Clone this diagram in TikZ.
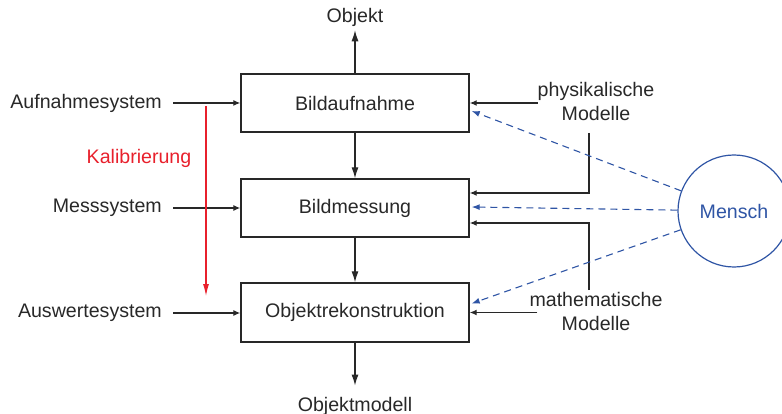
\documentclass[tikz,border=0pt]{standalone}
\usepackage{fontspec}
\setmainfont{Liberation Sans}
\usepackage{xcolor}
\usetikzlibrary{arrows.meta,calc}
\definecolor{strich}{RGB}{40,40,40}
\definecolor{menschblau}{RGB}{47,85,165}
\definecolor{kalibrot}{RGB}{232,32,44}
\tikzset{>=Latex}
\tikzset{
	block/.style={draw=strich,line width=1.4pt,minimum width=228pt,minimum height=58pt,inner sep=0pt},
	eingang/.style={anchor=east,inner xsep=11pt},
	modell/.style={align=center,inner sep=0pt},
	mensch/.style={circle,draw=menschblau,text=menschblau,line width=1.2pt,minimum size=112pt,inner sep=0pt},
	pfeil/.style={->,draw=strich,line width=1.2pt,>={Latex[length=7pt,width=6pt]}},
	hauptpfeil/.style={pfeil,>={Latex[length=11pt,width=7pt]}},
	mitwirkung/.style={->,draw=menschblau,line width=1.1pt,dash pattern=on 7pt off 5pt,>={Latex[length=8pt,width=6pt]}},
	kalibpfeil/.style={->,draw=kalibrot,line width=1.1pt,>={Latex[length=12pt,width=6pt]}}
}

\begin{document}
\begin{tikzpicture}[x=1pt,y=-1pt,font=\fontsize{19.6}{24}\selectfont,text=strich]
	\useasboundingbox (0,0) rectangle (782,414);

	% Ablauf
	\node[block] (aufnahme) at (355,103) {Bildaufnahme};
	\node[block] (mess) at (355,208) {Bildmessung};
	\node[block,minimum height=59pt] (rekon) at (355,312.5) {Objektrekonstruktion};
	\node[anchor=base,inner sep=3pt] (objekt) at (355,23) {Objekt};
	\node[anchor=base,inner sep=3pt] (objektmodell) at (355,411) {Objektmodell};

	\draw[hauptpfeil] (aufnahme.north) -- (objekt.south);
	\draw[hauptpfeil] (aufnahme.south) -- (mess.north);
	\draw[hauptpfeil] (mess.south) -- (rekon.north);
	\draw[hauptpfeil] (rekon.south) -- ([yshift=8pt]objektmodell.north);

	% Systeme links
	\node[eingang] (aufnahmesystem) at (173,103) {Aufnahmesystem};
	\node[eingang] (messsystem) at (173,208) {Messsystem};
	\node[eingang] (auswertesystem) at (173,313) {Auswertesystem};
	\draw[pfeil] (aufnahmesystem.east) -- (aufnahmesystem.east -| aufnahme.west);
	\draw[pfeil] (messsystem.east) -- (messsystem.east -| mess.west);
	\draw[pfeil] (auswertesystem.east) -- (auswertesystem.east -| rekon.west);

	\node[text=kalibrot,anchor=base] (kalibrierung) at (139,164) {Kalibrierung};
	\coordinate (kalib start) at (206,106);
	\coordinate (kalib ende) at (206,296);
	\draw[kalibpfeil] (kalib start) -- (kalib ende);

	% Modelle rechts
	\node[modell] (physmodell) at (596,101.5) {physikalische\\Modelle};
	\node[modell] (mathmodell) at (596,311.5) {mathematische\\Modelle};
	\draw[pfeil] (physmodell.west |- aufnahme.east) -- (aufnahme.east);
	\draw[pfeil] ([xshift=-7pt,yshift=-12pt]physmodell.south) |- ([yshift=15pt]mess.east);
	\draw[pfeil] ([xshift=-7pt,yshift=2pt]mathmodell.north) |- ([yshift=-15pt]mess.east);
	\draw[pfeil] ($(mathmodell.west |- rekon.east)+(8,0)$) -- (rekon.east);

	% Mensch
	\node[mensch] (mensch) at (734,211) {Mensch};
	\draw[mitwirkung] (mensch) -- ([xshift=2pt,yshift=-8pt]aufnahme.east);
	\draw[mitwirkung] (mensch) -- ([xshift=2pt,yshift=1pt]mess.east);
	\draw[mitwirkung] (mensch) -- ([xshift=2pt,yshift=9pt]rekon.east);
\end{tikzpicture}
\end{document}
